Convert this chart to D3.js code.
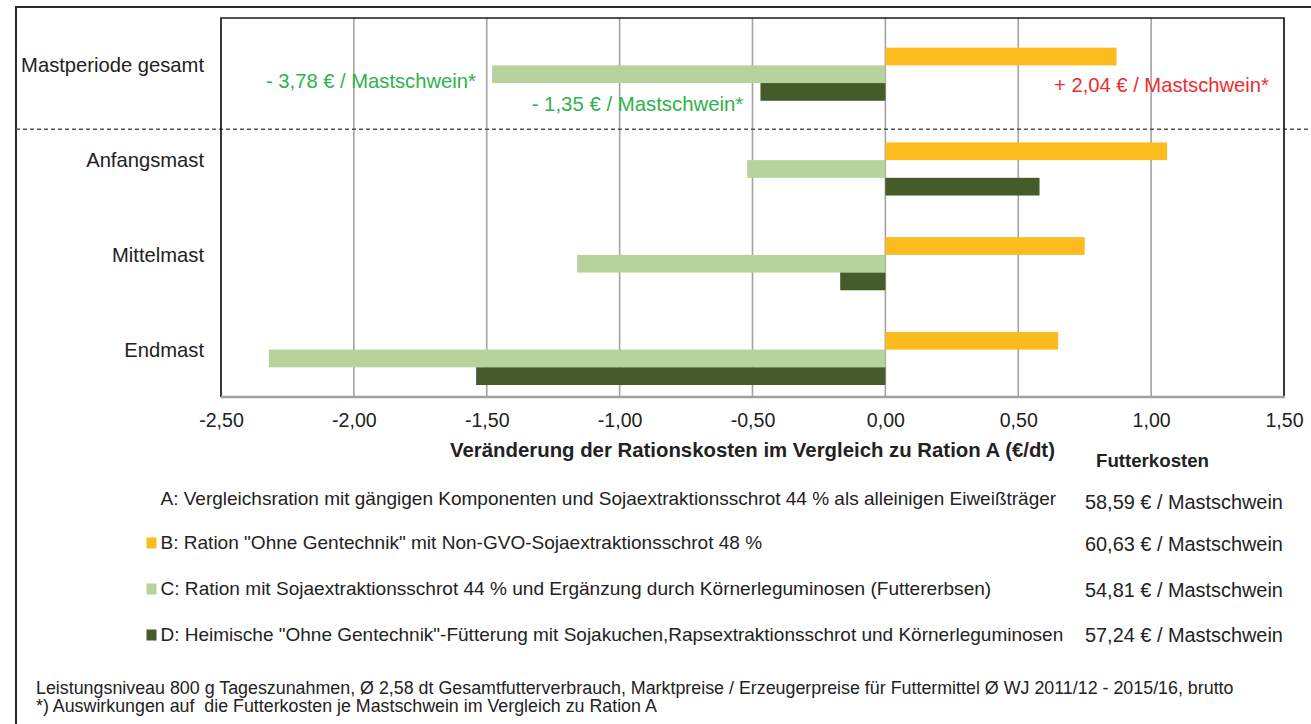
<!DOCTYPE html>
<html>
<head>
<meta charset="utf-8">
<script src="https://cdn.jsdelivr.net/npm/d3@7"></script>
<style>
  html, body { margin: 0; padding: 0; background: #fff; }
  svg { display: block; }
  text { font-family: "Liberation Sans", Arial, sans-serif; white-space: pre; }
</style>
</head>
<body>
<svg id="chart" width="1311" height="724"></svg>
<script>
// ---------- data ----------
const categories = ["Mastperiode gesamt", "Anfangsmast", "Mittelmast", "Endmast"];
const seriesKeys = ["A", "B", "C", "D"];
const valuesA = [0, 0, 0, 0];
const valuesB = [0.87, 1.06, 0.75, 0.65];
const valuesC = [-1.48, -0.52, -1.16, -2.32];
const valuesD = [-0.47, 0.58, -0.17, -1.54];
const xTicks = [-2.5, -2, -1.5, -1, -0.5, 0, 0.5, 1, 1.5];
const seriesColors = [null, "#FCBC1E", "#B5D39B", "#455B2A"];
const legendLabels = [
  "A: Vergleichsration mit gängigen Komponenten und Sojaextraktionsschrot 44 % als alleinigen Eiweißträger",
  "B: Ration \"Ohne Gentechnik\" mit Non-GVO-Sojaextraktionsschrot 48 %",
  "C: Ration mit Sojaextraktionsschrot 44 % und Ergänzung durch Körnerleguminosen (Futtererbsen)",
  "D: Heimische \"Ohne Gentechnik\"-Fütterung mit Sojakuchen,Rapsextraktionsschrot und Körnerleguminosen"
];
const feedCosts = [
  "58,59 € / Mastschwein",
  "60,63 € / Mastschwein",
  "54,81 € / Mastschwein",
  "57,24 € / Mastschwein"
];
const annotations = ["- 3,78 € / Mastschwein*", "- 1,35 € / Mastschwein*", "+ 2,04 € / Mastschwein*"];
const annotationColors = ["#2FB24C", "#2FB24C", "#EE2D2D"];
const axisTitle = "Veränderung der Rationskosten im Vergleich zu Ration A (€/dt)";
const costHeader = "Futterkosten";
const footnotes = [
  "Leistungsniveau 800 g Tageszunahmen, Ø 2,58 dt Gesamtfutterverbrauch, Marktpreise / Erzeugerpreise für Futtermittel Ø WJ 2011/12 - 2015/16, brutto",
  "*) Auswirkungen auf  die Futterkosten je Mastschwein im Vergleich zu Ration A"
];

// ---------- layout ----------
const svg = d3.select("#chart");
const plot = { left: 221, right: 1284, top: 18, bottom: 397 };

function fit(sel, width) {
  sel.each(function () {
    const fs = parseFloat(this.getAttribute("font-size"));
    const w = this.getComputedTextLength();
    if (w > 0) this.setAttribute("font-size", (fs * width / w).toFixed(2));
  });
  return sel;
}

const x = d3.scaleLinear().domain([-2.5, 1.5]).range([plot.left, plot.right]);
const y = d3.scaleBand().domain(categories).range([plot.top, plot.bottom])
  .paddingInner(0.253).paddingOuter(0.1265);
const ySub = d3.scaleBand().domain(seriesKeys).range([0, y.bandwidth()]);

const locale = d3.formatLocale({ decimal: ",", thousands: ".", grouping: [3], currency: ["", "€"], minus: "-" });
const fmt = locale.format(".2f");

const rows = categories.map((c, i) => ({
  cat: c,
  vals: [valuesA[i], valuesB[i], valuesC[i], valuesD[i]]
}));

// outer frame
svg.append("path")
  .attr("d", "M16,740 L16,7 L1330,7")
  .attr("fill", "none").attr("stroke", "#2b2b2b").attr("stroke-width", 2);

// gridlines
svg.append("g").selectAll("line").data(xTicks).join("line")
  .attr("x1", d => x(d)).attr("x2", d => x(d))
  .attr("y1", plot.top).attr("y2", plot.bottom)
  .attr("stroke", "#A3A3A3").attr("stroke-width", 1.6);

// dashed separator (between overall period and phases)
const sepY = y(categories[1]) + 4.5;
svg.append("line")
  .attr("x1", 16).attr("x2", 1311)
  .attr("y1", sepY).attr("y2", sepY)
  .attr("stroke", "#555").attr("stroke-width", 1.3).attr("stroke-dasharray", "4,3");

// bars
const groups = svg.append("g").selectAll("g").data(rows).join("g")
  .attr("transform", d => `translate(0,${y(d.cat)})`);
groups.selectAll("rect")
  .data(d => d.vals.map((v, k) => ({ key: seriesKeys[k], v, k })).filter(e => seriesColors[e.k]))
  .join("rect")
  .attr("x", e => x(Math.min(0, e.v)))
  .attr("width", e => Math.abs(x(e.v) - x(0)))
  .attr("y", e => ySub(e.key))
  .attr("height", ySub.bandwidth())
  .attr("fill", e => seriesColors[e.k]);

// plot border (top, left, right black) and bottom axis line gray
svg.append("path")
  .attr("d", `M${plot.left},${plot.bottom} L${plot.left},${plot.top} L${plot.right},${plot.top} L${plot.right},${plot.bottom}`)
  .attr("fill", "none").attr("stroke", "#1a1a1a").attr("stroke-width", 1.6);
svg.append("line")
  .attr("x1", plot.left).attr("x2", plot.right + 1)
  .attr("y1", plot.bottom).attr("y2", plot.bottom)
  .attr("stroke", "#A0A0A0").attr("stroke-width", 2.5);

// x axis tick labels
const xAxis = d3.axisBottom(x).tickValues(xTicks).tickFormat(fmt).tickSize(0).tickPadding(0);
const gx = svg.append("g").attr("transform", `translate(0,${plot.bottom})`).call(xAxis);
gx.select(".domain").remove();
gx.selectAll("text")
  .attr("dy", null).attr("y", 30)
  .attr("font-size", 19.6).attr("fill", "#222")
  .style("font-family", "'Liberation Sans', Arial, sans-serif");

// category labels
svg.append("g").selectAll("text").data(categories).join("text")
  .attr("x", 204).attr("y", d => y(d) + y.bandwidth() / 2 + 7)
  .attr("text-anchor", "end").attr("font-size", 20.2).attr("fill", "#222")
  .text(d => d);

// annotations
const annX = [266, 531.7, 1054];
const annY = [88, 111, 92];
const annW = [210, 211.6, 215];
annotations.forEach((t, i) => {
  svg.append("text").attr("x", annX[i]).attr("y", annY[i])
    .attr("font-size", 20).attr("fill", annotationColors[i]).text(t)
    .call(fit, annW[i]);
});

// axis title
svg.append("text").attr("x", (plot.left + plot.right) / 2).attr("y", 457)
  .attr("text-anchor", "middle").attr("font-size", 18).attr("font-weight", "bold")
  .attr("fill", "#222").text(axisTitle).call(fit, 605);

// Futterkosten header
svg.append("text").attr("x", 1096).attr("y", 467)
  .attr("font-size", 17).attr("font-weight", "bold").attr("fill", "#222")
  .text(costHeader).call(fit, 113);

// legend
const legY = [499, 543, 589, 635];
const legW = [896, 602, 831, 903];
legendLabels.forEach((t, i) => {
  if (seriesColors[i]) {
    svg.append("rect").attr("x", 146.5).attr("y", legY[i] - 5.5)
      .attr("width", 10).attr("height", 11).attr("fill", seriesColors[i]);
  }
  svg.append("text").attr("x", 160.5).attr("y", legY[i] + 6)
    .attr("font-size", 17).attr("fill", "#222").text(t).call(fit, legW[i]);
});
const costY = [503, 545, 591, 636];
feedCosts.forEach((t, i) => {
  svg.append("text").attr("x", 1085).attr("y", costY[i] + 6)
    .attr("font-size", 18).attr("fill", "#222").text(t).call(fit, 198);
});

// footnotes
const footY = [688, 706];
const footW = [1198, 621];
footnotes.forEach((t, i) => {
  svg.append("text").attr("x", 36).attr("y", footY[i] + 5.5)
    .attr("font-size", 15).attr("fill", "#222").text(t).call(fit, footW[i]);
});
</script>
</body>
</html>
